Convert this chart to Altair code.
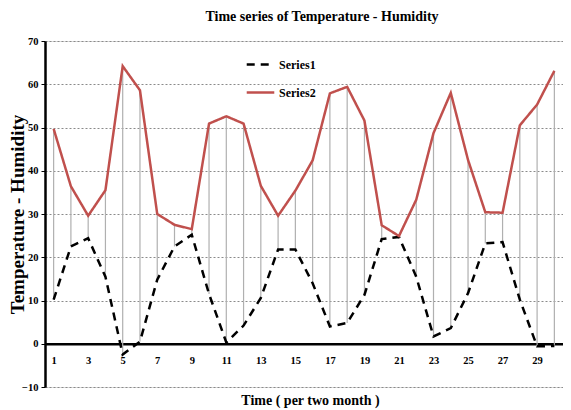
import altair as alt
import pandas as pd

periods = list(range(1, 31))
series1 = [10.2, 22.5, 24.4, 15.5, -2.5, 0.5, 14.8, 22.5, 25.2, 11.5,
           0.3, 4.2, 10.6, 21.8, 21.8, 14.0, 4.0, 4.8, 11.3, 24.2,
           24.7, 15.5, 1.7, 3.6, 11.7, 23.2, 23.5, 10.2, -0.6, -0.5]
series2 = [49.7, 36.4, 29.6, 35.5, 64.2, 58.6, 30.0, 27.5, 26.5, 50.9,
           52.6, 50.9, 36.5, 29.6, 35.4, 42.4, 57.9, 59.4, 51.6, 27.4,
           24.9, 33.3, 48.7, 58.0, 42.5, 30.4, 30.3, 50.5, 55.3, 63.1]
series_names = ["Series1", "Series2"]
y_ticks = [-10, 0, 10, 20, 30, 40, 50, 60, 70]
x_ticks = [1, 3, 5, 7, 9, 11, 13, 15, 17, 19, 21, 23, 25, 27, 29]

df_long = pd.DataFrame({
    "t": periods * 2,
    "v": series1 + series2,
    "s": [series_names[0]] * len(periods) + [series_names[1]] * len(periods),
})
df_wide = pd.DataFrame({"t": periods, "s1": series1, "s2": series2})

FONT = "Liberation Serif"
W, H = 518, 346
x_axis_offset = -10 * H / 80.0

xscale = alt.Scale(domain=[0.5, 30.5], nice=False, zero=False)
yscale = alt.Scale(domain=[-10, 70], nice=False, zero=False)

x_axis = alt.Axis(
    values=x_ticks, format="d", offset=x_axis_offset,
    domainColor="black", domainWidth=2.5, ticks=False, tickSize=0,
    labelPadding=12, labelFont=FONT, labelFontSize=10.5, labelFontWeight="bold",
    labelColor="black", grid=False,
    title="Time ( per two month )", titleFont=FONT, titleFontSize=14,
    titleFontWeight="bold", titleColor="black", titleY=61,
    titleBaseline="alphabetic", titleX=265,
)
y_axis = alt.Axis(
    values=y_ticks, format="d", domainColor="black", domainWidth=2.5,
    tickColor="black", tickSize=4, labelPadding=3, labelFont=FONT,
    labelFontSize=10.5, labelFontWeight="bold", labelColor="black",
    grid=True, gridColor="#8a8a8a", gridDash=[2, 2], gridWidth=1,
    title="Temperature - Humidity", titleFont=FONT, titleFontSize=19,
    titleFontWeight="bold", titleColor="black", titleX=-22,
    titleBaseline="alphabetic",
)

x_enc = alt.X("t:Q", scale=xscale, axis=x_axis)

drops = alt.Chart(df_wide).mark_rule(color="#b0b0b0", strokeWidth=1.2).encode(
    x=x_enc,
    y=alt.Y("s1:Q", scale=yscale, axis=y_axis),
    y2="s2:Q",
)

legend = alt.Legend(
    orient="none", legendX=200, legendY=8, title=None,
    symbolType="stroke", symbolSize=760, symbolStrokeWidth=2.5,
    labelFont=FONT, labelFontSize=12, labelFontWeight="bold",
    labelColor="black", labelOffset=3, rowPadding=6,
)

lines = alt.Chart(df_long).mark_line(strokeWidth=2.5).encode(
    x=x_enc,
    y=alt.Y("v:Q", scale=yscale, axis=y_axis),
    color=alt.Color("s:N", scale=alt.Scale(domain=series_names, range=["black", "#C0504D"]), legend=legend),
    strokeDash=alt.StrokeDash("s:N", scale=alt.Scale(domain=series_names, range=[[8, 6], [1, 0]]), legend=legend),
)

chart = alt.layer(drops, lines).properties(
    width=W, height=H,
    title=alt.Title("Time series of Temperature - Humidity", font=FONT, fontSize=14,
                    fontWeight="bold", color="black", dx=18, offset=12),
    padding={"left": 37, "top": 33, "right": 0, "bottom": 23},
    autosize=alt.AutoSizeParams(type="none"),
).configure_view(stroke=None).configure(background="white")

chart.save("out.html", embed_options={"renderer": "svg", "actions": False})
